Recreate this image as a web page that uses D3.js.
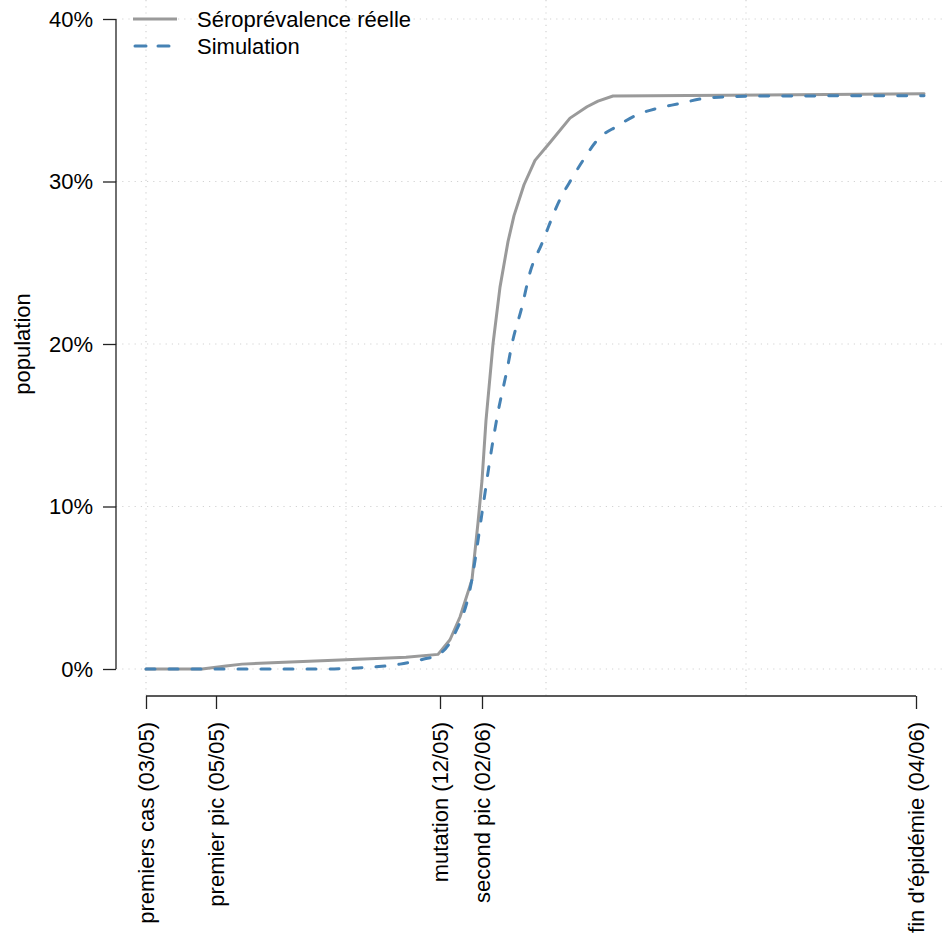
<!DOCTYPE html>
<html>
<head>
<meta charset="utf-8">
<script src="https://cdn.jsdelivr.net/npm/d3@7"></script>
<style>
  html, body { margin: 0; padding: 0; background: #fff; }
  svg { display: block; }
  text { font-family: "Liberation Sans", Arial, Helvetica, sans-serif; fill: #000; }
</style>
</head>
<body>
<svg id="chart" width="945" height="937"></svg>
<script>
// ---- data (x in days since first cases, y in % of population) ----
const seroDays   = [0, 28, 40, 48, 63, 97, 130, 146, 152, 157, 163, 166, 168, 170, 173.5, 177, 181, 184, 189, 194.5, 202, 212, 220.5, 226, 233.5, 389];
const seroValues = [0, 0, 0.18, 0.3, 0.39, 0.55, 0.72, 0.9, 1.8, 3.2, 5.5, 9.0, 11.6, 15.3, 20, 23.5, 26.3, 27.9, 29.8, 31.3, 32.4, 33.9, 34.6, 34.95, 35.26, 35.4];

const simDays   = [0, 90, 100, 113.5, 127, 138.5, 146, 154.5, 162, 168.5, 172.5, 176, 180.5, 183, 188, 192, 198, 207, 212.5, 218.5, 226, 235.5, 245.5, 255.5, 267, 278, 288.5, 300.5, 389];
const simValues = [0, 0, 0.03, 0.12, 0.3, 0.6, 0.86, 2.2, 4.9, 10, 13.3, 15.8, 18.4, 20, 22.3, 24.4, 26.2, 28.9, 30.1, 31.3, 32.6, 33.4, 34.1, 34.5, 34.8, 35.1, 35.2, 35.25, 35.28];

const tickDays   = [0, 35, 147, 168, 385];
const tickLabels = ["premiers cas (03/05)", "premier pic (05/05)", "mutation (12/05)", "second pic (02/06)", "fin d'épidémie (04/06)"];
const gridDays   = [0, 100, 200, 300, 400];
const yTicks     = [0, 10, 20, 30, 40];
const seriesNames = ["Séroprévalence réelle", "Simulation"];

// ---- layout ----
const svg = d3.select("#chart");
const fontSize = 22;
const x = d3.scaleLinear().domain([0, 385]).range([146, 916]);
const y = d3.scaleLinear().domain([0, 40]).range([669, 19]);
const axisY = 696;   // x-axis line position
const axisX = 116;   // y-axis line position

// grid
const grid = svg.append("g").attr("stroke", "#d3d3d3").attr("stroke-width", 1.2)
  .attr("stroke-dasharray", "1.2,5").attr("fill", "none");
grid.selectAll("line.h").data(yTicks).join("line")
  .attr("x1", axisX).attr("x2", 947)
  .attr("y1", d => y(d)).attr("y2", d => y(d));
grid.selectAll("line.v").data(gridDays).join("line")
  .attr("x1", d => x(d)).attr("x2", d => x(d))
  .attr("y1", 0).attr("y2", axisY);

// y axis
const yAxis = d3.axisLeft(y).tickValues(yTicks).tickSize(13).tickPadding(10)
  .tickFormat(d => d + "%");
const gy = svg.append("g").attr("transform", `translate(${axisX},0)`).call(yAxis);
gy.select(".domain").attr("d", `M-0,${y(0)}V${y(40)}`).attr("stroke", "#222").attr("stroke-width", 1.3);
gy.selectAll(".tick line").attr("stroke", "#222").attr("stroke-width", 1.3);
gy.selectAll(".tick text").attr("font-size", fontSize).attr("font-family", "Liberation Sans, Arial, sans-serif").attr("fill", "#000");

// x axis
const xAxis = d3.axisBottom(x).tickValues(tickDays).tickSize(13).tickFormat((d, i) => tickLabels[i]);
const gx = svg.append("g").attr("transform", `translate(0,${axisY})`).call(xAxis);
gx.select(".domain").attr("d", `M${x(tickDays[0])},0H${x(tickDays[tickDays.length - 1])}`).attr("stroke", "#222").attr("stroke-width", 1.3);
gx.selectAll(".tick line").attr("stroke", "#222").attr("stroke-width", 1.3);
gx.selectAll(".tick text")
  .attr("font-size", fontSize).attr("font-family", "Liberation Sans, Arial, sans-serif").attr("fill", "#000")
  .attr("text-anchor", "end")
  .attr("transform", "rotate(-90)")
  .attr("x", -26).attr("y", 0).attr("dy", "0.36em");

// y label
svg.append("text").attr("transform", `translate(30,${(y(0) + y(40)) / 2}) rotate(-90)`)
  .attr("text-anchor", "middle").attr("font-size", fontSize).text("population");

// lines
const sero = seroDays.map((d, i) => [d, seroValues[i]]);
const sim = simDays.map((d, i) => [d, simValues[i]]);
svg.append("path").datum(sero)
  .attr("fill", "none").attr("stroke", "#9a9a9a").attr("stroke-width", 3)
  .attr("stroke-linejoin", "round").attr("stroke-linecap", "round")
  .attr("d", d3.line().x(d => x(d[0])).y(d => y(d[1])));
svg.append("path").datum(sim)
  .attr("fill", "none").attr("stroke", "#4682b4").attr("stroke-width", 3)
  .attr("stroke-dasharray", "9,14").attr("stroke-linecap", "round")
  .attr("d", d3.line().curve(d3.curveMonotoneX).x(d => x(d[0])).y(d => y(d[1])));

// legend
const leg = svg.append("g");
const legY = [19, 46];
leg.append("line").attr("x1", 133).attr("x2", 177).attr("y1", legY[0]).attr("y2", legY[0])
  .attr("stroke", "#9a9a9a").attr("stroke-width", 3);
leg.append("line").attr("x1", 135).attr("x2", 177).attr("y1", legY[1]).attr("y2", legY[1])
  .attr("stroke", "#4682b4").attr("stroke-width", 3).attr("stroke-dasharray", "11,12").attr("stroke-linecap", "round");
leg.selectAll("text").data(seriesNames).join("text")
  .attr("x", 197).attr("y", (d, i) => legY[i]).attr("dy", "0.36em")
  .attr("font-size", fontSize).text(d => d);
</script>
</body>
</html>
